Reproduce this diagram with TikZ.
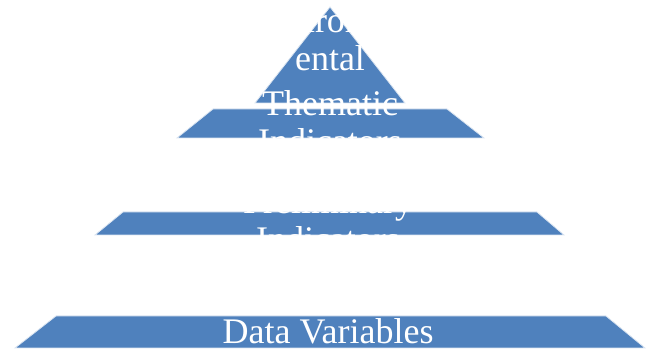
\documentclass[tikz,border=0pt]{standalone}
\usepackage{fontspec}
\setmainfont{Liberation Serif}
\usepackage{tikz}
\definecolor{layerColor}{HTML}{4F81BD}
\tikzset{
  layer/.style={fill=layerColor, draw=white!80!layerColor, line width=0.4pt},
  lvltext/.style={anchor=base, inner sep=0pt, text=white, font=\fontsize{18}{21.6}\selectfont}
}

\begin{document}
\begin{tikzpicture}[x=0.5pt, y=-0.5pt]
          \useasboundingbox (0,0) rectangle (650,352);
          % pyramid layers, top to bottom
          \draw[layer] (330,7) -- (405,103) -- (255,103) -- cycle;
          \draw[layer] (213,109) -- (447,109) -- (484,138) -- (177,138) -- cycle;
          \draw[layer] (123,212) -- (537,212) -- (564,235) -- (95,235) -- cycle;
          \draw[layer] (56,316) -- (606,316) -- (645,348) -- (15,348) -- cycle;
          % texts
          \node[lvltext] (env1) at (330,33) {nvironm};
          \node[lvltext] (env2) at (330,71) {ental};
          \node[lvltext] (them1) at (330,116) {Thematic};
          \node[lvltext] (them2) at (330,154) {Indicators};
          \node[lvltext] (prel1) at (328,214) {Preliminary};
          \node[lvltext] (prel2) at (328,252) {Indicators};
          \node[lvltext] (data) at (328,344) {Data Variables};
        \end{tikzpicture}
\end{document}
